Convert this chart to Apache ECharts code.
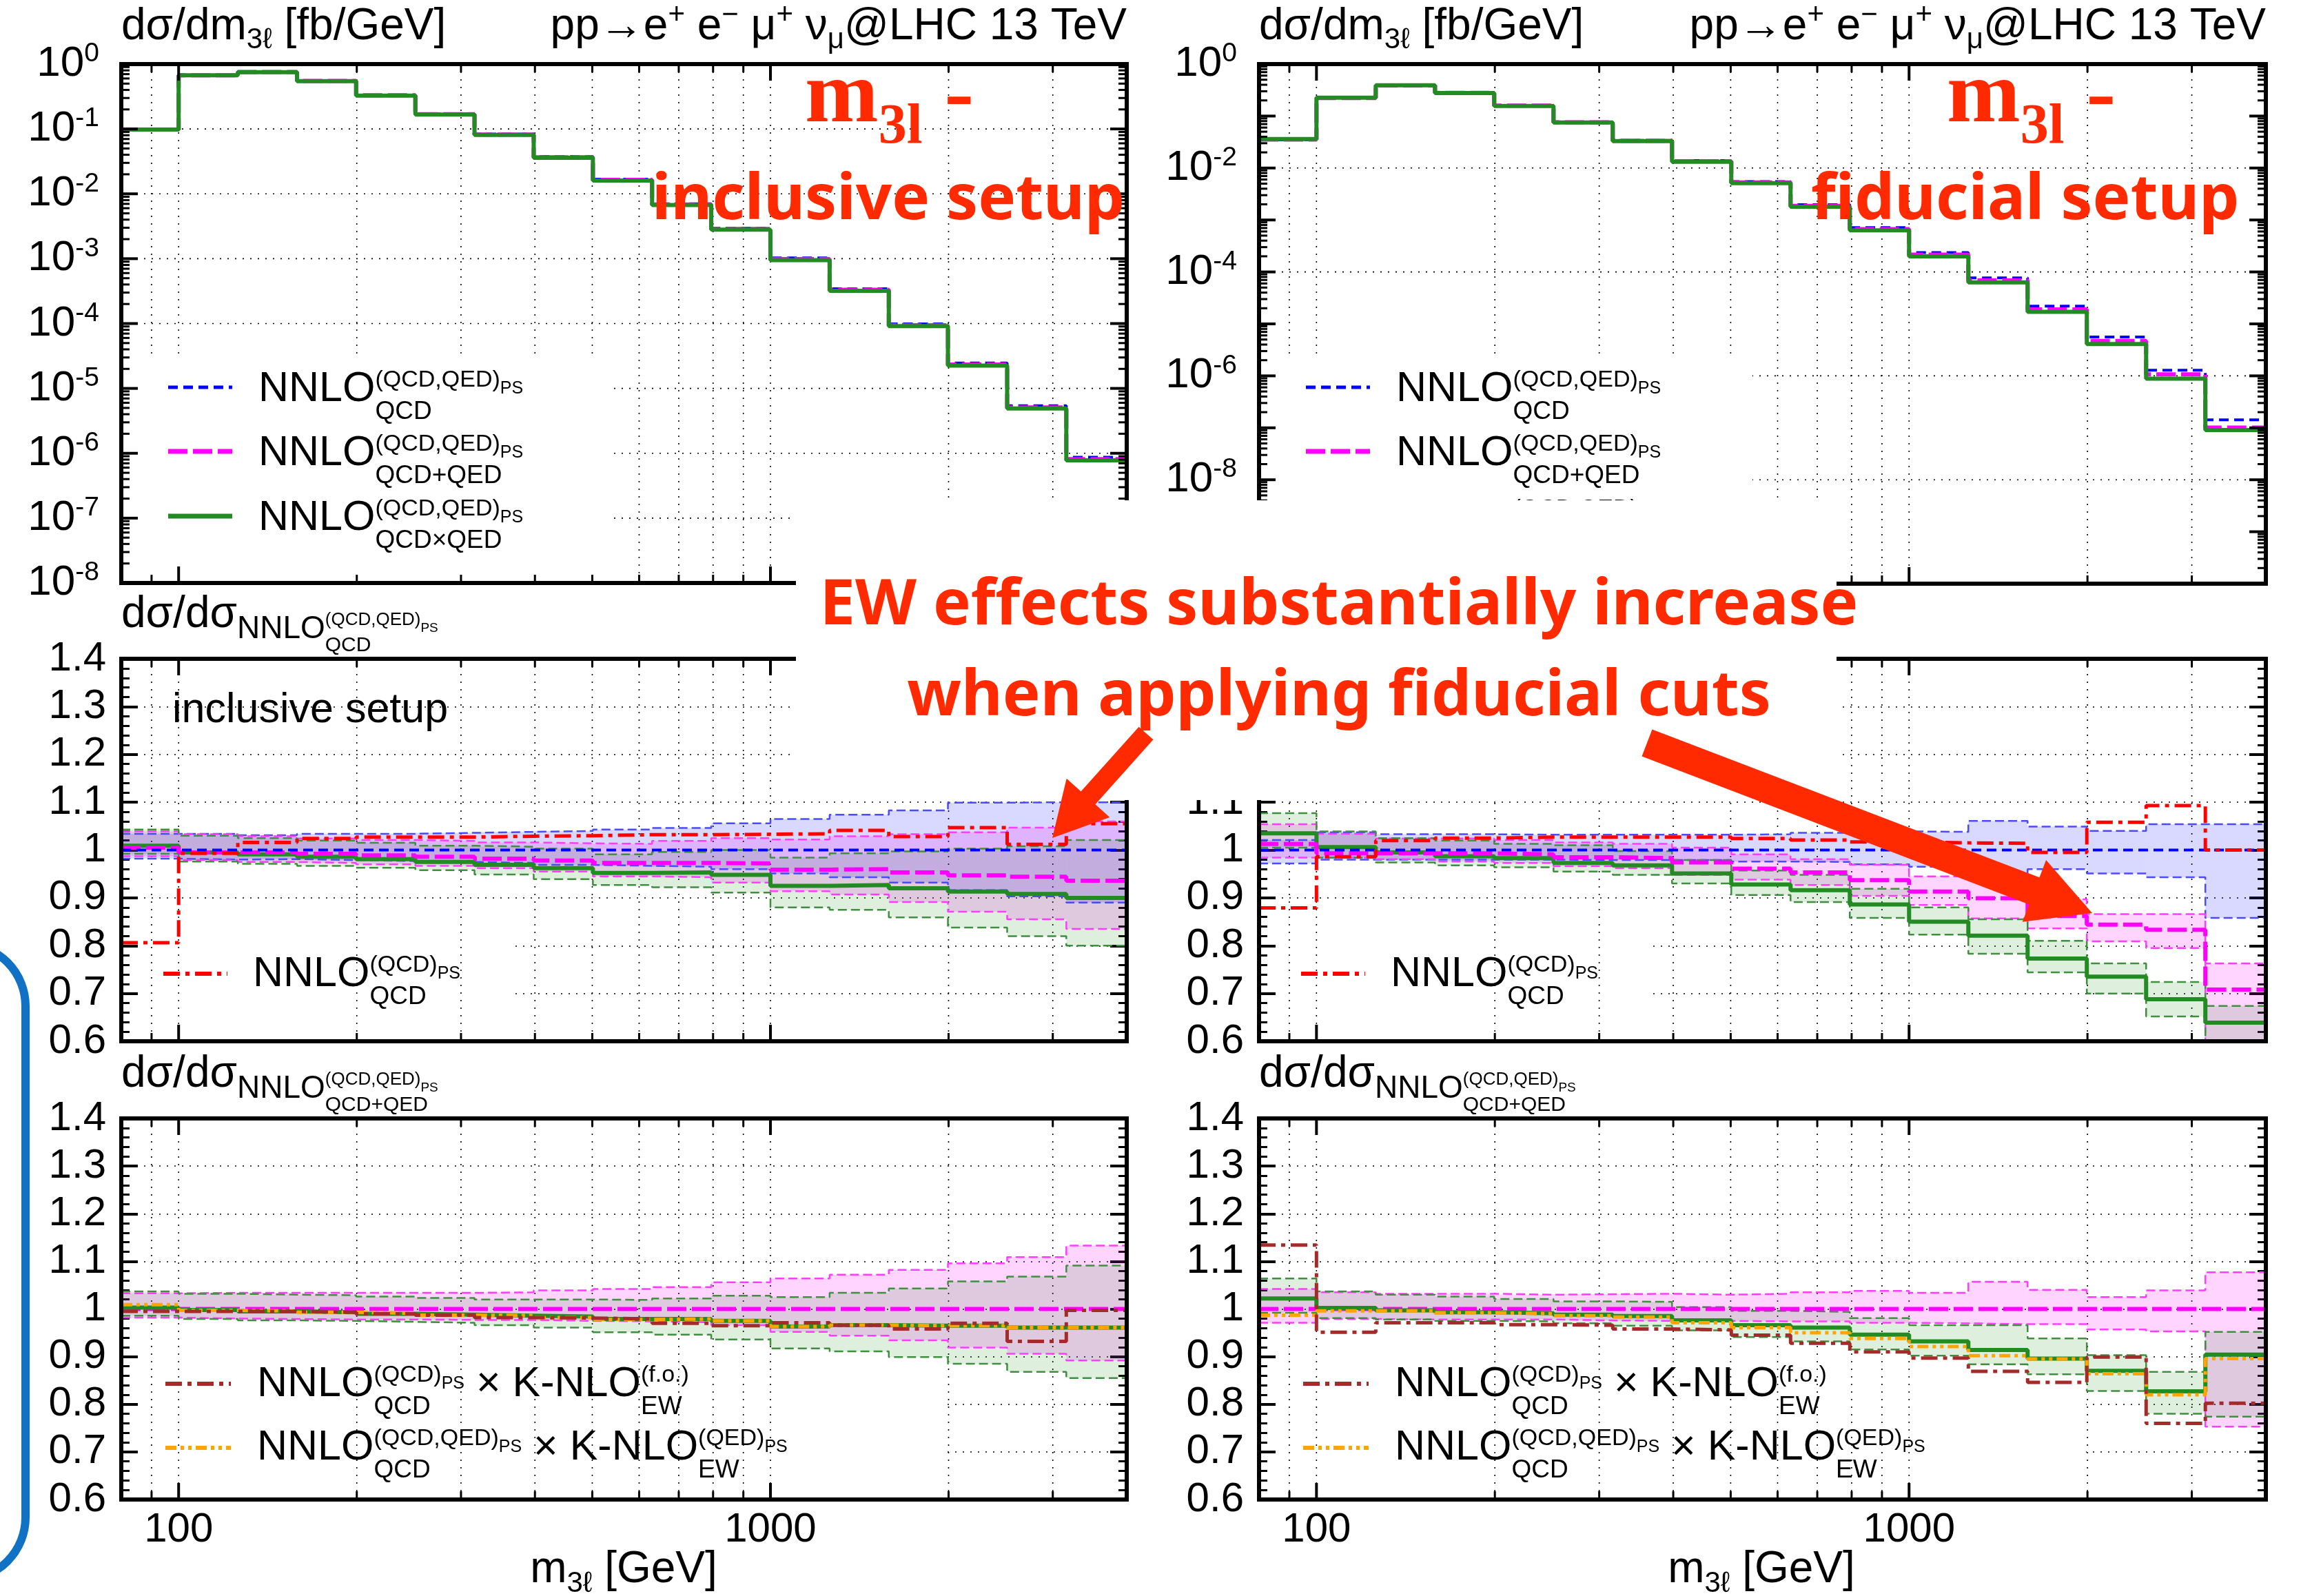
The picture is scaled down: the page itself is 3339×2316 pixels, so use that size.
<!DOCTYPE html>
<html>
<head>
<meta charset="utf-8">
<script src="https://cdn.jsdelivr.net/npm/echarts@6/dist/echarts.min.js"></script>
<style>
  html, body { margin: 0; padding: 0; background: #fff; }
  #main { width: 3339px; height: 2316px; }
</style>
</head>
<body>
<div id="main"></div>
<script>
// bin edges of the m3l histograms (GeV)
const binEdges = [80, 100, 125.9, 158.5, 199.5, 251.2, 316.2, 398.1, 501.2, 631.0, 794.3, 1000, 1259, 1585, 1995, 2512, 3162, 4000];
const xMajorTicks = [100, 1000];
const xMinorTicks = [90, 200, 300, 400, 500, 600, 700, 800, 900, 2000, 3000];
const topLeftYTicks = [1, 1e-1, 1e-2, 1e-3, 1e-4, 1e-5, 1e-6, 1e-7, 1e-8];
const topRightYTicks = [1, 1e-2, 1e-4, 1e-6, 1e-8];
const topRightYOddTicks = [1e-1, 1e-3, 1e-5, 1e-7, 1e-9];

// top panels: d sigma / d m3l [fb/GeV]
const incAbsQCD      = [0.0971, 0.673, 0.757, 0.553, 0.333, 0.171, 0.0836, 0.0374, 0.0168, 0.00703, 0.00295, 1.03e-3, 3.45e-4, 9.9e-5, 2.46e-5, 5.4e-6, 8.7e-7];
const incAbsQCDplusQED = [0.0976, 0.670, 0.753, 0.548, 0.330, 0.169, 0.0821, 0.0366, 0.0164, 0.00684, 0.00287, 9.85e-4, 3.31e-4, 9.43e-5, 2.33e-5, 5.1e-6, 8.1e-7];
const incAbsQCDxQED  = [0.098, 0.67, 0.75, 0.545, 0.327, 0.167, 0.081, 0.036, 0.016, 0.0067, 0.0028, 9.5e-4, 3.2e-4, 9.1e-5, 2.25e-5, 4.9e-6, 7.8e-7];
const fidAbsQCD      = [0.0348, 0.2246, 0.392, 0.2817, 0.1597, 0.0771, 0.0341, 0.01388, 0.0055, 0.00197, 7.11e-4, 2.35e-4, 7.67e-5, 2.2e-5, 5.58e-6, 1.28e-6, 1.42e-7];
const fidAbsQCDplusQED = [0.0352, 0.223, 0.389, 0.2797, 0.1583, 0.0759, 0.0335, 0.01352, 0.00528, 0.00187, 6.66e-4, 2.15e-4, 6.9e-5, 1.9e-5, 4.71e-6, 1.07e-6, 1.01e-7];
const fidAbsQCDxQED  = [0.036, 0.226, 0.39, 0.278, 0.157, 0.075, 0.033, 0.0132, 0.0051, 0.0018, 6.3e-4, 2.0e-4, 6.3e-5, 1.7e-5, 4.1e-6, 8.8e-7, 9.1e-8];

const refUnity = [1, 1, 1, 1, 1, 1, 1, 1, 1, 1, 1, 1, 1, 1, 1, 1, 1];

// middle panels: ratio to NNLO(QCD,QED)PS QCD
const incMidPlus  = [1.005, 0.995, 0.995, 0.992, 0.989, 0.986, 0.982, 0.978, 0.973, 0.973, 0.972, 0.959, 0.960, 0.953, 0.947, 0.944, 0.936];
const incMidTimes = [1.009, 0.995, 0.991, 0.986, 0.981, 0.975, 0.969, 0.962, 0.952, 0.953, 0.948, 0.925, 0.927, 0.920, 0.913, 0.908, 0.900];
const incMidNNLOQCD = [0.806, 0.993, 1.016, 1.024, 1.027, 1.027, 1.029, 1.030, 1.032, 1.032, 1.033, 1.034, 1.041, 1.028, 1.047, 1.012, 1.055];
const incMidQCDHi  = [1.034, 1.034, 1.031, 1.034, 1.034, 1.036, 1.038, 1.040, 1.043, 1.046, 1.056, 1.065, 1.074, 1.083, 1.099, 1.100, 1.100];
const incMidQCDLo  = [0.982, 0.980, 0.981, 0.979, 0.977, 0.975, 0.973, 0.969, 0.967, 0.965, 0.960, 0.951, 0.943, 0.932, 0.916, 0.903, 0.890];
const incMidPlusHi = [1.039, 1.033, 1.029, 1.024, 1.021, 1.019, 1.016, 1.014, 1.013, 1.019, 1.025, 1.022, 1.029, 1.033, 1.037, 1.047, 1.060];
const incMidPlusLo = [0.987, 0.979, 0.975, 0.973, 0.970, 0.967, 0.962, 0.955, 0.945, 0.943, 0.932, 0.914, 0.907, 0.891, 0.871, 0.855, 0.835];
const incMidTimesHi = [1.043, 1.030, 1.025, 1.020, 1.015, 1.009, 1.007, 1.003, 0.991, 0.996, 1.000, 0.984, 0.993, 0.997, 1.003, 1.008, 1.021];
const incMidTimesLo = [0.992, 0.976, 0.971, 0.967, 0.963, 0.958, 0.949, 0.939, 0.927, 0.922, 0.911, 0.880, 0.875, 0.859, 0.838, 0.820, 0.800];

const fidMidPlus  = [1.0125, 0.993, 0.993, 0.993, 0.991, 0.985, 0.983, 0.974, 0.961, 0.953, 0.937, 0.913, 0.899, 0.862, 0.844, 0.833, 0.708];
const fidMidTimes = [1.035, 1.006, 0.995, 0.987, 0.983, 0.973, 0.968, 0.951, 0.928, 0.916, 0.886, 0.850, 0.821, 0.773, 0.735, 0.688, 0.639];
const fidMidNNLOQCD = [0.879, 0.986, 1.020, 1.025, 1.027, 1.027, 1.027, 1.027, 1.024, 1.021, 1.017, 1.015, 1.014, 0.995, 1.058, 1.093, 1.0];
const fidMidQCDHi  = [1.021, 1.037, 1.033, 1.033, 1.032, 1.032, 1.032, 1.032, 1.033, 1.036, 1.039, 1.038, 1.061, 1.049, 1.040, 1.054, 1.054];
const fidMidQCDLo  = [0.972, 0.980, 0.980, 0.980, 0.980, 0.979, 0.979, 0.979, 0.976, 0.975, 0.970, 0.965, 0.951, 0.960, 0.951, 0.943, 0.858];
const fidMidPlusHi = [1.054, 1.034, 1.024, 1.024, 1.021, 1.016, 1.013, 1.005, 0.991, 0.981, 0.969, 0.945, 0.950, 0.897, 0.866, 0.866, 0.763];
const fidMidPlusLo = [0.984, 0.984, 0.981, 0.976, 0.973, 0.966, 0.962, 0.948, 0.938, 0.927, 0.904, 0.885, 0.857, 0.836, 0.809, 0.795, 0.58];
const fidMidTimesHi = [1.077, 1.039, 1.025, 1.020, 1.013, 1.010, 0.998, 0.979, 0.957, 0.948, 0.919, 0.880, 0.855, 0.810, 0.763, 0.724, 0.674];
const fidMidTimesLo = [1.005, 0.984, 0.974, 0.968, 0.964, 0.955, 0.948, 0.930, 0.906, 0.891, 0.858, 0.823, 0.783, 0.744, 0.700, 0.652, 0.59];

// bottom panels: ratio to NNLO(QCD,QED)PS QCD+QED
const incBotTimes = [1.003, 0.998, 0.995, 0.993, 0.990, 0.988, 0.986, 0.984, 0.979, 0.979, 0.975, 0.963, 0.966, 0.965, 0.965, 0.961, 0.961];
const incBotQEDps = [1.009, 0.997, 0.996, 0.993, 0.991, 0.987, 0.986, 0.982, 0.978, 0.979, 0.975, 0.963, 0.966, 0.965, 0.965, 0.961, 0.961];
const incBotFO    = [0.995, 0.995, 0.995, 0.993, 0.990, 0.987, 0.982, 0.981, 0.979, 0.970, 0.965, 0.971, 0.966, 0.958, 0.970, 0.932, 0.997];
const incBotPlusHi = [1.033, 1.034, 1.034, 1.034, 1.034, 1.034, 1.035, 1.039, 1.042, 1.046, 1.056, 1.064, 1.072, 1.082, 1.096, 1.109, 1.133];
const incBotPlusLo = [0.982, 0.980, 0.979, 0.978, 0.978, 0.977, 0.977, 0.975, 0.974, 0.972, 0.966, 0.952, 0.944, 0.934, 0.919, 0.906, 0.892];
const incBotTimesHi = [1.037, 1.032, 1.030, 1.029, 1.026, 1.023, 1.020, 1.020, 1.019, 1.022, 1.028, 1.025, 1.034, 1.043, 1.058, 1.068, 1.091];
const incBotTimesLo = [0.986, 0.979, 0.976, 0.975, 0.973, 0.971, 0.966, 0.961, 0.951, 0.946, 0.936, 0.917, 0.911, 0.899, 0.885, 0.868, 0.855];

const fidBotTimes = [1.022, 1.002, 0.997, 0.993, 0.991, 0.988, 0.985, 0.976, 0.966, 0.961, 0.946, 0.932, 0.914, 0.896, 0.870, 0.827, 0.904];
const fidBotQEDps = [0.987, 0.996, 0.996, 0.992, 0.990, 0.986, 0.983, 0.971, 0.961, 0.950, 0.938, 0.921, 0.902, 0.895, 0.864, 0.820, 0.896];
const fidBotFO    = [1.134, 0.951, 0.971, 0.971, 0.967, 0.966, 0.958, 0.956, 0.945, 0.928, 0.910, 0.897, 0.869, 0.846, 0.899, 0.760, 0.802];
const fidBotPlusHi = [1.042, 1.035, 1.032, 1.032, 1.030, 1.031, 1.032, 1.030, 1.032, 1.035, 1.038, 1.034, 1.057, 1.040, 1.025, 1.039, 1.077];
const fidBotPlusLo = [0.971, 0.979, 0.978, 0.978, 0.978, 0.976, 0.975, 0.975, 0.974, 0.974, 0.971, 0.970, 0.968, 0.968, 0.957, 0.953, 0.753];
const fidBotTimesHi = [1.064, 1.037, 1.030, 1.026, 1.021, 1.016, 1.015, 1.004, 0.996, 0.994, 0.981, 0.966, 0.966, 0.938, 0.903, 0.868, 0.952];
const fidBotTimesLo = [0.992, 0.981, 0.978, 0.975, 0.974, 0.970, 0.965, 0.955, 0.941, 0.932, 0.915, 0.902, 0.884, 0.863, 0.828, 0.780, 0.774];

const FONT = "'Liberation Sans', Arial, 'DejaVu Sans', sans-serif";
const RED = '#ff2a00';

const grids = [
  {left: 176, top: 93, width: 1459, height: 753},
  {left: 1827, top: 93, width: 1461, height: 754},
  {left: 176, top: 956, width: 1459, height: 555},
  {left: 1827, top: 956, width: 1461, height: 555},
  {left: 176, top: 1623, width: 1459, height: 553},
  {left: 1827, top: 1623, width: 1461, height: 553}
];
const yRef = [1e-3, 1e-3, 1, 1, 1, 1];

const ST = {
  qcd:   {color: '#0000ff', width: 4, type: [14, 8]},
  plus:  {color: '#ff00ff', width: 6, type: [28, 8]},
  times: {color: '#228b22', width: 6, type: 'solid'},
  red:   {color: '#ff0000', width: 5, type: [24, 8, 6, 8]},
  fo:    {color: '#a52a2a', width: 5, type: [24, 8, 6, 8]},
  qedps: {color: '#ffa500', width: 5, type: [16, 6, 5, 6, 5, 6]}
};
const BAND = {
  qcd:   {fill: 'rgba(0,0,255,0.15)', edge: '#4a4aff'},
  plus:  {fill: 'rgba(255,0,255,0.17)', edge: '#ff3cff'},
  times: {fill: 'rgba(0,128,0,0.13)', edge: '#3f8f3f'}
};

function stepPts(vals) {
  const p = vals.map((v, i) => [binEdges[i], v]);
  p.push([binEdges[vals.length], vals[vals.length - 1]]);
  return p;
}
function line(gi, vals, st, z) {
  return {type: 'line', xAxisIndex: gi, yAxisIndex: gi, data: stepPts(vals), step: 'end',
    showSymbol: false, symbol: 'none', silent: true, z: z,
    lineStyle: {color: st.color, width: st.width, type: st.type}};
}
function band(gi, lo, hi, b) {
  const out = [];
  out.push({type: 'custom', xAxisIndex: gi, yAxisIndex: gi, z: 2, silent: true,
    data: lo.map((l, i) => [binEdges[i], l, binEdges[i + 1], hi[i]]),
    renderItem(params, api) {
      const cs = params.coordSys;
      const a = api.coord([api.value(0), api.value(3)]);
      const c = api.coord([api.value(2), api.value(1)]);
      const top = Math.max(cs.y, Math.min(a[1], c[1]));
      const bot = Math.min(cs.y + cs.height, Math.max(a[1], c[1]));
      if (bot <= top) return null;
      return {type: 'rect', shape: {x: a[0], y: top, width: c[0] - a[0], height: bot - top}, style: {fill: b.fill}};
    }});
  [lo, hi].forEach(arr => out.push(line(gi, arr, {color: b.edge, width: 2.5, type: [13, 6]}, 2.2)));
  return out;
}
function gridLines(gi, yVals) {
  const items = xMajorTicks.concat(xMinorTicks).map(v => [v, yRef[gi], 0]);
  (yVals || []).forEach(v => items.push([100, v, 1]));
  return {type: 'custom', xAxisIndex: gi, yAxisIndex: gi, z: 1.2, silent: true, data: items,
    renderItem(params, api) {
      const cs = params.coordSys;
      const st = {stroke: '#000', lineWidth: 1.6, lineDash: [2, 9]};
      const p = api.coord([api.value(0), api.value(1)]);
      if (api.value(2) === 0) return {type: 'line', shape: {x1: p[0], y1: cs.y, x2: p[0], y2: cs.y + cs.height}, style: st};
      return {type: 'line', shape: {x1: cs.x, y1: p[1], x2: cs.x + cs.width, y2: p[1]}, style: st};
    }};
}
function frame(gi) {
  const items = xMajorTicks.map(v => [v, yRef[gi], 1]).concat(xMinorTicks.map(v => [v, yRef[gi], 0]));
  return {type: 'custom', xAxisIndex: gi, yAxisIndex: gi, z: 5, silent: true, data: items,
    renderItem(params, api) {
      const cs = params.coordSys;
      const x = api.coord([api.value(0), api.value(1)])[0];
      const major = api.value(2) === 1;
      const len = major ? 24 : 12;
      const st = {stroke: '#000', lineWidth: major ? 4 : 3};
      const ch = [
        {type: 'line', shape: {x1: x, y1: cs.y + cs.height, x2: x, y2: cs.y + cs.height - len}, style: st},
        {type: 'line', shape: {x1: x, y1: cs.y, x2: x, y2: cs.y + len}, style: st}
      ];
      if (params.dataIndex === 0) {
        ch.push({type: 'rect', shape: {x: cs.x, y: cs.y, width: cs.width, height: cs.height},
          style: {fill: 'none', stroke: '#000', lineWidth: 6}});
      }
      return {type: 'group', children: ch};
    }};
}
function logYTicks(gi, labeled, unlabeled, minor) {
  const items = labeled.map(v => [100, v, 2]).concat(unlabeled.map(v => [100, v, 1])).concat(minor.map(v => [100, v, 0]));
  return {type: 'custom', xAxisIndex: gi, yAxisIndex: gi, z: 5, silent: true, data: items,
    renderItem(params, api) {
      const cs = params.coordSys;
      const y = api.coord([api.value(0), api.value(1)])[1];
      const kind = api.value(2);
      const len = kind > 0 ? 24 : 12;
      const st = {stroke: '#000', lineWidth: kind > 0 ? 4 : 3};
      const ch = [
        {type: 'line', shape: {x1: cs.x, y1: y, x2: cs.x + len, y2: y}, style: st},
        {type: 'line', shape: {x1: cs.x + cs.width, y1: y, x2: cs.x + cs.width - len, y2: y}, style: st}
      ];
      if (kind === 2) {
        const n = Math.round(Math.log10(api.value(1)));
        ch.push({type: 'text', style: {text: '{b|10}{s|' + n + '}', x: cs.x - 32, y: y, align: 'right', verticalAlign: 'middle',
          rich: {b: {fontSize: 62, fontFamily: FONT, lineHeight: 68, fill: '#000'},
                 s: {fontSize: 39, fontFamily: FONT, lineHeight: 36, verticalAlign: 'top', fill: '#000'}}}});
      }
      return {type: 'group', children: ch};
    }};
}
function minorLogTicks(nMin) {
  const out = [];
  for (let n = nMin; n < 0; n++) for (let k = 2; k <= 9; k++) out.push(k * Math.pow(10, n));
  return out;
}

// ---------- text helpers (graphic) ----------
const mctx = document.createElement('canvas').getContext('2d');
function textW(t, s, fam, wt) { mctx.font = wt + ' ' + s + 'px ' + fam; return mctx.measureText(t).width; }
function flow(parts, x0, base, opt) {
  opt = opt || {};
  const fam = opt.family || FONT, wt = opt.weight || 'normal', col = opt.color || '#000', z = opt.z || 10;
  const els = [];
  let x = 0;
  const put = (q, xx) => { els.push({t: q.t, s: q.s, x: xx, y: base + (q.dy || 0)}); return textW(q.t, q.s, fam, wt); };
  for (const p of parts) {
    if (Array.isArray(p)) {
      let mw = 0;
      for (const seq of p) { let xx = x; for (const q of seq) xx += put(q, xx); mw = Math.max(mw, xx - x); }
      x += mw;
    } else x += put(p, x);
  }
  let off = x0;
  if (opt.align === 'right') off = x0 - x; else if (opt.align === 'center') off = x0 - x / 2;
  return els.map(e => ({type: 'text', z: z, silent: true, x: e.x + off, y: e.y - 0.34 * e.s,
    style: {text: e.t, fontSize: e.s, fontFamily: fam, fontWeight: wt, fill: col, align: 'left', verticalAlign: 'middle'}}));
}
function nnlo(sup, sub, extra) {
  const p = [{t: 'NNLO', s: 61}, [[{t: sup, s: 34, dy: -23}].concat(sup.indexOf('QCD') >= 0 ? [{t: 'PS', s: 25, dy: -13}] : []), [{t: sub, s: 37, dy: 24}]]];
  return extra ? p.concat(extra) : p;
}
function sample(x1, x2, y, st) {
  return {type: 'line', z: 10, silent: true, shape: {x1: x1, y1: y, x2: x2, y2: y},
    style: {stroke: st.color, lineWidth: st.width + 1, lineDash: Array.isArray(st.type) ? st.type : null}};
}
function whiteRect(x, y, w, h, z) {
  return {type: 'rect', z: z, silent: true, shape: {x: x, y: y, width: w, height: h}, style: {fill: '#fff'}};
}
function arrow(tail, tip, sw, hl, hw) {
  const dx = tip[0] - tail[0], dy = tip[1] - tail[1], L = Math.hypot(dx, dy);
  const ux = dx / L, uy = dy / L, nx = -uy, ny = ux;
  const bx = tip[0] - ux * hl, by = tip[1] - uy * hl;
  const pts = [[tail[0] + nx * sw / 2, tail[1] + ny * sw / 2], [bx + nx * sw / 2, by + ny * sw / 2], [bx + nx * hw, by + ny * hw], tip,
    [bx - nx * hw, by - ny * hw], [bx - nx * sw / 2, by - ny * sw / 2], [tail[0] - nx * sw / 2, tail[1] - ny * sw / 2]];
  return {type: 'polygon', z: 30, silent: true, shape: {points: pts}, style: {fill: RED}};
}

// ---------- axes ----------
const xAxes = grids.map((g, i) => ({
  type: 'log', logBase: 10, min: 80, max: 4000, gridIndex: i,
  axisLine: {show: false}, axisTick: {show: false}, splitLine: {show: false},
  axisLabel: {show: i >= 4, margin: 14, fontSize: 60, fontFamily: FONT, color: '#000',
    formatter: v => (Math.abs(v - 100) < 1 ? '100' : (Math.abs(v - 1000) < 1 ? '1000' : '')),
    showMinLabel: false, showMaxLabel: false}
}));
const ratioY = (i, right) => ({
  type: 'value', gridIndex: i, min: 0.6, max: 1.4, interval: 0.1, position: right ? 'right' : 'left',
  axisLine: {show: false},
  axisTick: {show: true, inside: true, length: 24, lineStyle: {color: '#000', width: 4}},
  minorTick: {show: true, splitNumber: 5, length: 12, lineStyle: {color: '#000', width: 3}},
  splitLine: {show: !right, lineStyle: {color: '#000', width: 1.6, type: [2, 9]}},
  axisLabel: {show: !right, margin: 22, fontSize: 60, fontFamily: FONT, color: '#000'}
});
const hiddenLogY = (i, mn) => ({type: 'log', logBase: 10, gridIndex: i, min: mn, max: 1,
  axisLine: {show: false}, axisTick: {show: false}, splitLine: {show: false}, axisLabel: {show: false}});
const yAxes = [hiddenLogY(0, 1e-8), hiddenLogY(1, 1e-10), ratioY(2), ratioY(3), ratioY(4), ratioY(5),
  ratioY(2, true), ratioY(3, true), ratioY(4, true), ratioY(5, true)];

// ---------- series ----------
let series = [];
series.push(gridLines(0, topLeftYTicks.slice(1, -1)), gridLines(1, topRightYTicks.slice(1)));
for (let i = 2; i < 6; i++) series.push(gridLines(i));
for (let i = 0; i < 6; i++) series.push(frame(i));
series.push(logYTicks(0, topLeftYTicks, [], minorLogTicks(-8)));
series.push(logYTicks(1, topRightYTicks, topRightYOddTicks, minorLogTicks(-10)));

series.push(line(0, incAbsQCD, ST.qcd, 3), line(0, incAbsQCDplusQED, ST.plus, 3.1), line(0, incAbsQCDxQED, ST.times, 3.2));
series.push(line(1, fidAbsQCD, ST.qcd, 3), line(1, fidAbsQCDplusQED, ST.plus, 3.1), line(1, fidAbsQCDxQED, ST.times, 3.2));

series = series.concat(band(2, incMidQCDLo, incMidQCDHi, BAND.qcd), band(2, incMidPlusLo, incMidPlusHi, BAND.plus), band(2, incMidTimesLo, incMidTimesHi, BAND.times));
series.push(line(2, incMidTimes, ST.times, 3), line(2, incMidPlus, ST.plus, 3.1), line(2, refUnity, ST.qcd, 3.2), line(2, incMidNNLOQCD, ST.red, 3.3));
series = series.concat(band(3, fidMidQCDLo, fidMidQCDHi, BAND.qcd), band(3, fidMidPlusLo, fidMidPlusHi, BAND.plus), band(3, fidMidTimesLo, fidMidTimesHi, BAND.times));
series.push(line(3, fidMidTimes, ST.times, 3), line(3, fidMidPlus, ST.plus, 3.1), line(3, refUnity, ST.qcd, 3.2), line(3, fidMidNNLOQCD, ST.red, 3.3));

series = series.concat(band(4, incBotPlusLo, incBotPlusHi, BAND.plus), band(4, incBotTimesLo, incBotTimesHi, BAND.times));
series.push(line(4, refUnity, ST.plus, 3), line(4, incBotTimes, ST.times, 3.1), line(4, incBotQEDps, ST.qedps, 3.2), line(4, incBotFO, ST.fo, 3.3));
series = series.concat(band(5, fidBotPlusLo, fidBotPlusHi, BAND.plus), band(5, fidBotTimesLo, fidBotTimesHi, BAND.times));
series.push(line(5, refUnity, ST.plus, 3), line(5, fidBotTimes, ST.times, 3.1), line(5, fidBotQEDps, ST.qedps, 3.2), line(5, fidBotFO, ST.fo, 3.3));

// ---------- graphic: texts, legends, annotations ----------
let g = [];
// boxes behind legends that hide the grid
g.push(whiteRect(176, 513, 713, 333, 1.4), whiteRect(1827, 513, 716, 334, 1.4));
g.push(whiteRect(206, 1330, 539, 178, 1), whiteRect(1857, 1330, 540, 178, 1));
g.push(whiteRect(206, 1935, 1168, 238, 1), whiteRect(1857, 1935, 1170, 238, 1));

[0, 1651].forEach(dx => {
  // top titles
  g = g.concat(flow([{t: 'dσ/dm', s: 64}, {t: '3ℓ', s: 42, dy: 12}, {t: ' [fb/GeV]', s: 64}], 176 + dx, 61));
  g = g.concat(flow([{t: 'pp→e', s: 64}, {t: '+', s: 42, dy: -24}, {t: ' e', s: 64}, {t: '−', s: 42, dy: -24},
    {t: ' μ', s: 64}, {t: '+', s: 42, dy: -24}, {t: ' ν', s: 64}, {t: 'μ', s: 42, dy: 12}, {t: '@LHC 13 TeV', s: 64}],
    1635 + dx + (dx ? 2 : 0), 61, {align: 'right'}));
  // ratio titles
  [[914, 'QCD'], [1581, 'QCD+QED']].forEach(([b, sub]) => {
    g = g.concat(flow([{t: 'dσ/dσ', s: 64}, {t: 'NNLO', s: 46, dy: 15},
      [[{t: '(QCD,QED)', s: 26, dy: -5}, {t: 'PS', s: 19, dy: 4}], [{t: sub, s: 30, dy: 33}]]], 176 + dx, b));
  });
  // x axis names
  g = g.concat(flow([{t: 'm', s: 64}, {t: '3ℓ', s: 42, dy: 13}, {t: ' [GeV]', s: 64}], 905 + dx, 2300, {align: 'center'}));
  // top legends
  const subs = ['QCD', 'QCD+QED', 'QCD×QED'], sts = [ST.qcd, ST.plus, ST.times];
  [586, 679, 773].forEach((b, k) => {
    g.push(sample(244 + dx, 337 + dx, b - 24, sts[k]));
    g = g.concat(flow(nnlo('(QCD,QED)', subs[k]), 375 + dx, b));
  });
  // middle legend
  g.push(sample(237 + dx, 330 + dx, 1413, ST.red));
  g = g.concat(flow(nnlo('(QCD)', 'QCD'), 367 + dx, 1435));
  // bottom legends
  g.push(sample(240 + dx, 335 + dx, 2008, ST.fo));
  g = g.concat(flow(nnlo('(QCD)', 'QCD', [{t: ' × K-NLO', s: 61}, [[{t: '(f.o.)', s: 34, dy: -23}], [{t: 'EW', s: 37, dy: 24}]]]), 373 + dx, 2030));
  g.push(sample(240 + dx, 335 + dx, 2101, ST.qedps));
  g = g.concat(flow(nnlo('(QCD,QED)', 'QCD', [{t: ' × K-NLO', s: 61}, [[{t: '(QED)', s: 34, dy: -23}, {t: 'PS', s: 25, dy: -13}], [{t: 'EW', s: 37, dy: 24}]]]), 373 + dx, 2122));
});
g = g.concat(flow([{t: 'inclusive setup', s: 61}], 250, 1052));

// annotation overlay
g.push(whiteRect(1155, 726, 1510, 435, 20));
const serifOpt = {family: "'Liberation Serif', 'DejaVu Serif', serif", weight: 'bold', color: RED, z: 30};
g = g.concat(flow([{t: 'm', s: 128}, {t: '3l', s: 82, dy: 28}, {t: ' -', s: 128}], 1168, 186, serifOpt));
g = g.concat(flow([{t: 'm', s: 128}, {t: '3l', s: 82, dy: 28}, {t: ' -', s: 128}], 2825, 186, serifOpt));
const sansRed = {family: "'Noto Sans', 'DejaVu Sans', sans-serif", weight: 'bold', color: RED, z: 30};
g = g.concat(flow([{t: 'inclusive setup', s: 92}], 946, 323, sansRed));
g = g.concat(flow([{t: 'fiducial setup', s: 92}], 2628, 323, sansRed));
g = g.concat(flow([{t: 'EW effects substantially increase', s: 92}], 1943, 911, Object.assign({align: 'center'}, sansRed)));
g = g.concat(flow([{t: 'when applying fiducial cuts', s: 92}], 1943, 1043, Object.assign({align: 'center'}, sansRed)));
g.push(arrow([1663, 1064], [1527, 1216], 28, 78, 42));
g.push(arrow([2390, 1078], [3036, 1325], 42, 90, 48));
g.push({type: 'rect', z: 30, silent: true, shape: {x: -500, y: 1370, width: 537, height: 922, r: 90},
  style: {fill: 'none', stroke: '#1071c5', lineWidth: 12}});

const chart = echarts.init(document.getElementById('main'), null, {width: 3339, height: 2316});
chart.setOption({
  animation: false,
  backgroundColor: '#fff',
  textStyle: {fontFamily: FONT},
  grid: grids.map(r => Object.assign({outerBoundsMode: 'none', containLabel: false}, r)),
  xAxis: xAxes,
  yAxis: yAxes,
  series: series,
  graphic: {elements: g}
});
</script>
</body>
</html>
